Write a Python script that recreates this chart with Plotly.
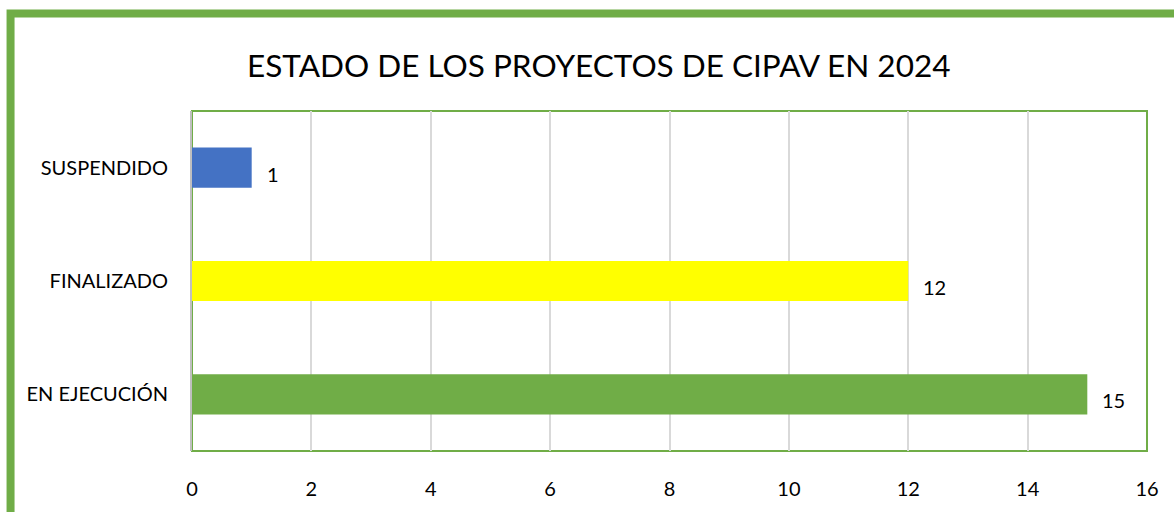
import plotly.graph_objects as go

# chart data (bottom to top, as plotly draws horizontal bars)
estados = ["EN EJECUCIÓN", "FINALIZADO", "SUSPENDIDO"]
proyectos = [15, 12, 1]
colores = ["#70AD47", "#FFFF00", "#4472C4"]
x_ticks = [0, 2, 4, 6, 8, 10, 12, 14, 16]

VERDE = "#70AD47"
FONT = "Lato, 'Open Sans', sans-serif"

fig = go.Figure()

fig.add_trace(
    go.Bar(
        y=estados,
        x=proyectos,
        orientation="h",
        marker=dict(color=colores, line=dict(width=0)),
        showlegend=False,
        hoverinfo="x+y",
    )
)

# data labels, slightly below centre like the original
for est, val in zip(estados, proyectos):
    fig.add_annotation(
        x=val, y=est, text=str(val), showarrow=False,
        xanchor="left", yanchor="middle", xshift=13, yshift=-6,
        font=dict(size=20, color="#000000", family=FONT),
    )

fig.update_layout(
    width=1174,
    height=512,
    margin=dict(l=192, r=27, t=111, b=56),
    paper_bgcolor="white",
    plot_bgcolor="white",
    bargap=0.645,
    font=dict(family=FONT, color="#000000", size=20),
    title=dict(
        text="ESTADO DE LOS PROYECTOS DE CIPAV EN 2024",
        font=dict(size=31.5, color="#000000", family=FONT),
        x=0.510, xanchor="center", y=0.871, yanchor="middle",
    ),
    shapes=[
        # outer chart frame (cropped at right and bottom)
        dict(type="rect", xref="paper", yref="paper",
             x0=-0.190, x1=1.2, y0=-0.5, y1=1.287,
             line=dict(color=VERDE, width=8), layer="below"),
        # plot area frame
        dict(type="rect", xref="paper", yref="paper",
             x0=0, x1=1, y0=0, y1=1,
             line=dict(color=VERDE, width=2), layer="below"),
    ],
)

fig.update_xaxes(
    range=[0, 16],
    tickvals=x_ticks,
    showgrid=True, gridcolor="#D9D9D9", gridwidth=1.5,
    zeroline=False,
    showline=False,
    ticks="",
    ticklabelstandoff=24,
    tickfont=dict(size=20, color="#000000"),
    fixedrange=True,
)

fig.update_yaxes(
    showgrid=False,
    zeroline=False,
    showline=True, linecolor="#BFBFBF", linewidth=2,
    ticks="",
    ticklabelstandoff=18,
    tickfont=dict(size=20, color="#000000"),
    fixedrange=True,
)

# drop the default 8px body margin so the figure fills the window exactly
fig.write_html(
    "out.html",
    config={"displayModeBar": False},
    post_script="document.body.style.margin='0';document.body.style.overflow='hidden';",
)
